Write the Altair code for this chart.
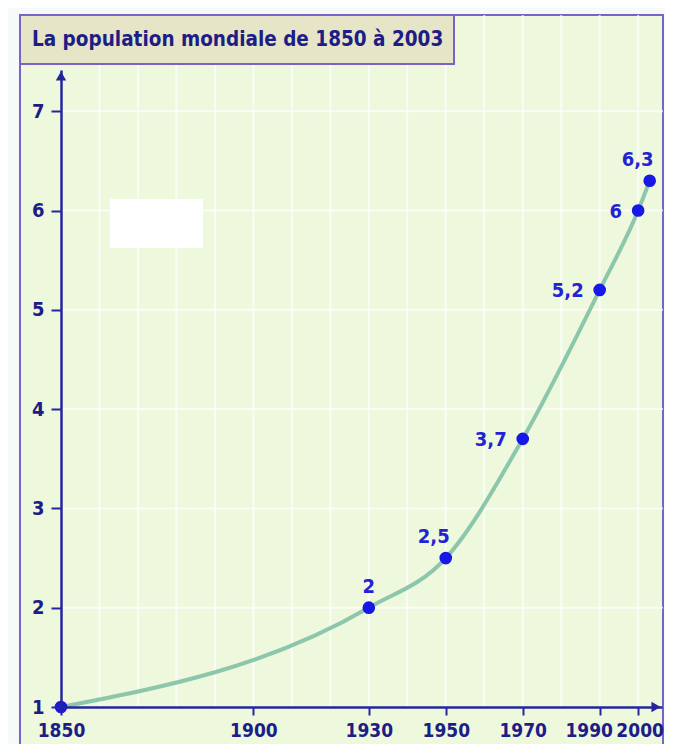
import altair as alt
import pandas as pd

# ---- data ----
years = [1850, 1930, 1950, 1970, 1990, 2000, 2003]
population = [1, 2, 2.5, 3.7, 5.2, 6, 6.3]
x_tick_years = [1850, 1900, 1930, 1950, 1970, 1990, 2000]
y_ticks = [1, 2, 3, 4, 5, 6, 7]
grid_years = [1860, 1870, 1880, 1890, 1900, 1910, 1920, 1930, 1940, 1950, 1960, 1970, 1980, 1990, 2000]
grid_levels = [2, 3, 4, 5, 6, 7]
title_text = "La population mondiale de 1850 à 2003"
labels_above = [1930]
labels_above_left = [1950, 2003]
labels_left = [1970, 1990, 2000]

# ---- styling ----
W, H = 601, 637
FONT = "DejaVu Sans Condensed, Liberation Sans Narrow, sans-serif"
NAVY = "#1d1d86"
AXIS = "#26269c"
PURPLE = "#7b62c9"

df = pd.DataFrame({"year": years, "pop": population})
gx = pd.DataFrame({"year": grid_years})
gy = pd.DataFrame({"level": grid_levels})
one = pd.DataFrame({"k": [0]})

xscale = alt.Scale(domain=[1850, 2006.2], nice=False, zero=False)
yscale = alt.Scale(domain=[1, 7.415], nice=False, zero=False)

x_label_offset = {"condition": [{"test": "datum.value == 1990", "value": -11},
                                {"test": "datum.value == 2000", "value": 1.5}], "value": 0}

xaxis = alt.Axis(values=x_tick_years, format="d", title=None, grid=False,
                 labelFont=FONT, labelFontSize=19, labelFontWeight="bold", labelColor=NAVY,
                 labelPadding=6, tickSize=8, tickWidth=2, tickColor=AXIS, labelOverlap=False,
                 labelOffset=x_label_offset,
                 domainColor=AXIS, domainWidth=2.5, zindex=1, labelFlush=False)
yaxis = alt.Axis(values=y_ticks, format="d", title=None, grid=False,
                 labelFont=FONT, labelFontSize=20, labelFontWeight="bold", labelColor=NAVY,
                 labelPadding=7, tickSize=10, tickWidth=2, tickColor=AXIS, labelOverlap=False,
                 domainColor=AXIS, domainWidth=2.5, zindex=1, labelFlush=False)

frame = alt.Chart(one).mark_rect(fill="#eef8dd", stroke=PURPLE, strokeWidth=2).encode(
    x=alt.value(-41), x2=alt.value(W + 1), y=alt.value(-55), y2=alt.value(H + 60))

vgrid = alt.Chart(gx).mark_rule(color="white", strokeWidth=2, opacity=0.7).encode(
    x=alt.X("year:Q", scale=xscale, axis=xaxis), y=alt.value(-55), y2=alt.value(H))

hgrid = alt.Chart(gy).mark_rule(color="white", strokeWidth=2, opacity=0.7).encode(
    y=alt.Y("level:Q", scale=yscale, axis=yaxis), x=alt.value(0), x2=alt.value(W + 1))

patch = alt.Chart(one).mark_rect(fill="white").encode(
    x=alt.value(49), x2=alt.value(142), y=alt.value(129), y2=alt.value(178))

base = alt.Chart(df).encode(
    x=alt.X("year:Q", scale=xscale, axis=xaxis),
    y=alt.Y("pop:Q", scale=yscale, axis=yaxis))

line = base.mark_line(interpolate="monotone", color="#8cc6ab", strokeWidth=4)
points = base.mark_circle(size=160, color="#1717e8", opacity=1)

lab = base.transform_calculate(label="replace(toString(datum.pop), '.', ',')")
tstyle = dict(font=FONT, fontSize=20, fontWeight="bold", color="#2323d4", baseline="alphabetic")
t_above = lab.transform_filter(alt.FieldOneOfPredicate(field="year", oneOf=labels_above)).mark_text(
    align="center", dx=0, dy=-15, **tstyle).encode(text="label:N")
t_above_left = lab.transform_filter(alt.FieldOneOfPredicate(field="year", oneOf=labels_above_left)).mark_text(
    align="center", dx=-12, dy=-15, **tstyle).encode(text="label:N")
t_left = lab.transform_filter(alt.FieldOneOfPredicate(field="year", oneOf=labels_left)).mark_text(
    align="right", dx=-16, dy=7, **tstyle).encode(text="label:N")

arrow_up = alt.Chart(one).mark_point(shape="triangle-up", filled=True, size=110, color=AXIS, opacity=1).encode(
    x=alt.value(0), y=alt.value(6))
arrow_right = alt.Chart(one).mark_point(shape="triangle-right", filled=True, size=110, color=AXIS, opacity=1).encode(
    x=alt.value(W - 6), y=alt.value(H))

title_box = alt.Chart(one).mark_rect(fill="#e7e5c7", stroke=PURPLE, strokeWidth=2).encode(
    x=alt.value(-41), x2=alt.value(393), y=alt.value(-55), y2=alt.value(-6))
title = alt.Chart(one).mark_text(align="left", baseline="alphabetic", font=FONT, fontSize=20.5,
                                  fontWeight="bold", color=NAVY).encode(
    x=alt.value(-29), y=alt.value(-24), text=alt.value(title_text))

chart = alt.layer(frame, vgrid, hgrid, patch, line, points, t_above, t_above_left, t_left,
                  arrow_up, arrow_right, title_box, title).properties(
    width=W, height=H,
    autosize=alt.AutoSizeParams(type="none"),
    padding={"left": 53, "top": 62, "right": 3, "bottom": 37},
    background="#f4fbfa",
).configure_view(stroke=None)

chart.save("out.html", embed_options={"renderer": "svg", "actions": False})
